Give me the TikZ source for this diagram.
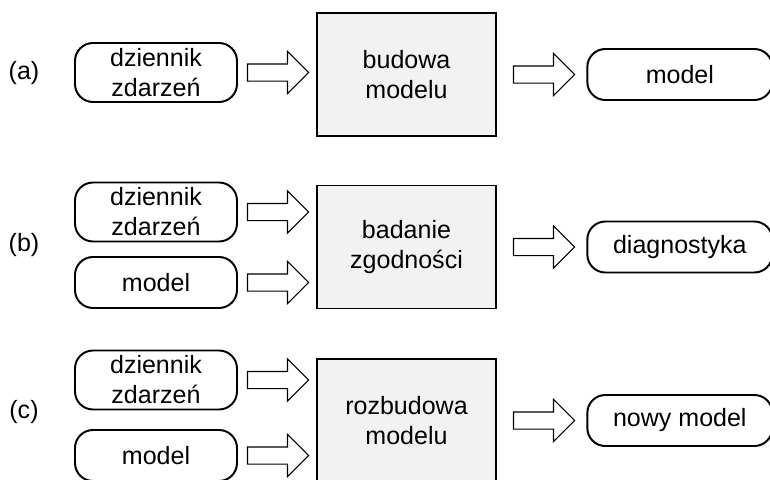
\documentclass[tikz,border=0pt]{standalone}
\usepackage{fontspec}
\setmainfont{Liberation Sans}
\usetikzlibrary{positioning,shapes.arrows}

\definecolor{stagegray}{HTML}{F2F2F2}

\tikzset{
  source/.style={rectangle,draw,line width=1.4pt,rounded corners=0.45cm,minimum width=4.05cm,minimum height=1.475cm,align=center,inner sep=0pt},
  smallsource/.style={source,minimum height=1.275cm},
  result/.style={source,minimum width=4.625cm,minimum height=1.275cm},
  stage/.style={rectangle,draw,line width=1.4pt,fill=stagegray,minimum width=4.475cm,minimum height=3.075cm,align=center},
  flow/.style={single arrow,draw,line width=0.8pt,minimum height=1.525cm,inner xsep=0pt,inner ysep=0.2cm,single arrow head extend=0.3125cm,single arrow tip angle=90}
}

\begin{document}
\begin{tikzpicture}[font=\fontsize{17.8}{21.3}\selectfont]
  \useasboundingbox (0,0) rectangle (19.25,-11.975);

  % (a) budowa modelu
  \node (labA) at (0.6,-1.825) {(a)};
  \node[source] (logA) at (3.9,-1.8125) {dziennik\\zdarzeń};
  \node[stage] (stageA) at (10.1625,-1.8625) {budowa\\modelu};
  \node[flow,right=0.225cm of logA] (inA) {};
  \node[flow,right=0.4cm of stageA] (outA) {};
  \node[result,right=0.275cm of outA] (resA) {model};

  % (b) badanie zgodnosci
  \node (labB) at (0.6,-6.125) {(b)};
  \node[source] (logB) at (3.9,-5.3) {dziennik\\zdarzeń};
  \node[smallsource] (modelB) at (3.9,-7.0625) {model};
  \node[stage] (stageB) at (10.1625,-6.175) {badanie\\zgodności};
  \node[flow,right=0.225cm of logB] (inB1) {};
  \node[flow,right=0.225cm of modelB] (inB2) {};
  \node[flow,right=0.4cm of stageB] (outB) {};
  \node[result,right=0.275cm of outB] (resB) {diagnostyka};

  % (c) rozbudowa modelu
  \node (labC) at (0.6,-10.3) {(c)};
  \node[source] (logC) at (3.9,-9.5) {dziennik\\zdarzeń};
  \node[smallsource] (modelC) at (3.9,-11.3875) {model};
  \node[stage] (stageC) at (10.1625,-10.5125) {rozbudowa\\modelu};
  \node[flow,right=0.225cm of logC] (inC1) {};
  \node[flow,right=0.225cm of modelC] (inC2) {};
  \node[flow,right=0.4cm of stageC] (outC) {};
  \node[result,right=0.275cm of outC] (resC) {nowy model};
\end{tikzpicture}
\end{document}
